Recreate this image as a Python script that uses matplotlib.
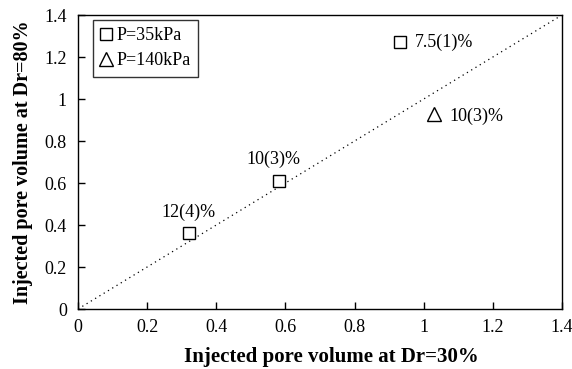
import matplotlib
matplotlib.use("Agg")
import matplotlib.pyplot as plt

plt.rcParams['font.family'] = ['Liberation Serif', 'DejaVu Serif']
plt.rcParams['mathtext.fontset'] = 'stix'

sq_x = [0.32, 0.58, 0.93]
sq_y = [0.36, 0.61, 1.27]
sq_labels = ["12(4)%", "10(3)%", "7.5(1)%"]
tri_x = [1.03]
tri_y = [0.93]
tri_labels = ["10(3)%"]
line_x = [0, 1.4]
line_y = [0, 1.4]
ticks = [0, 0.2, 0.4, 0.6, 0.8, 1.0, 1.2, 1.4]
tick_labels = ["0", "0.2", "0.4", "0.6", "0.8", "1", "1.2", "1.4"]

fig = plt.figure(figsize=(5.72, 3.69), dpi=100)
ax = fig.add_axes([0.1364, 0.1626, 0.8461, 0.7967])

ax.plot(line_x, line_y, linestyle=(0, (1, 3)), color='black', linewidth=0.9)
ax.plot(sq_x, sq_y, linestyle='none', marker='s', markersize=9, markerfacecolor='white',
        markeredgecolor='black', markeredgewidth=1.0, label='P=35kPa')
ax.plot(tri_x, tri_y, linestyle='none', marker='^', markersize=10, markerfacecolor='white',
        markeredgecolor='black', markeredgewidth=1.0, label='P=140kPa')

fs = 13
ax.annotate(sq_labels[0], (sq_x[0], sq_y[0]), xytext=(0, 9), textcoords='offset points',
            ha='center', va='bottom', fontsize=fs)
ax.annotate(sq_labels[1], (sq_x[1], sq_y[1]), xytext=(-4, 9), textcoords='offset points',
            ha='center', va='bottom', fontsize=fs)
ax.annotate(sq_labels[2], (sq_x[2], sq_y[2]), xytext=(11, 0), textcoords='offset points',
            ha='left', va='center', fontsize=fs)
ax.annotate(tri_labels[0], (tri_x[0], tri_y[0]), xytext=(11, -2), textcoords='offset points',
            ha='left', va='center', fontsize=fs)

ax.set_xlim(0, 1.4)
ax.set_ylim(0, 1.4)
ax.set_xticks(ticks)
ax.set_xticklabels(tick_labels)
ax.set_yticks(ticks)
ax.set_yticklabels(tick_labels)
ax.tick_params(direction='in', labelsize=13, length=5, width=1)
ax.tick_params(axis='x', pad=7)
ax.tick_params(axis='y', pad=8)
for s in ax.spines.values():
    s.set_linewidth(1.0)

ax.set_xlabel('Injected pore volume at Dr=30%', fontsize=15, fontweight='bold')
ax.xaxis.set_label_coords(0.523, -0.128)
ax.set_ylabel('Injected pore volume at Dr=80%', fontsize=14.5, fontweight='bold', labelpad=8)

leg = ax.legend(loc='upper left', bbox_to_anchor=(0.031, 0.983), fontsize=13, frameon=True,
                fancybox=False, edgecolor='black', handlelength=0.6, handletextpad=0.3,
                borderpad=0.4, labelspacing=0.45, borderaxespad=0)
leg.get_frame().set_linewidth(1.0)

fig.savefig('out.png', dpi=100)
